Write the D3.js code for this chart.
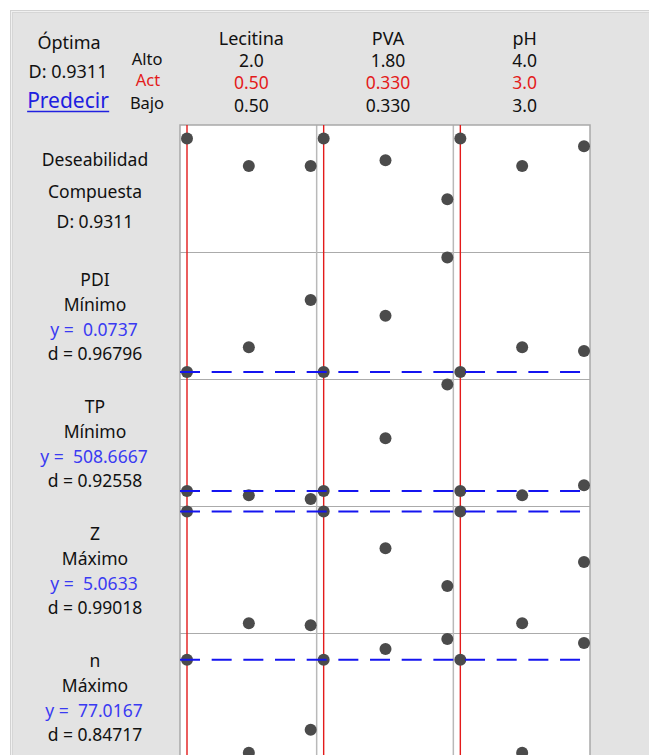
<!DOCTYPE html>
<html>
<head>
<meta charset="utf-8">
<script src="https://cdn.jsdelivr.net/npm/d3@7"></script>
<style>
  html, body { margin: 0; padding: 0; background: #ffffff; }
  svg { display: block; font-family: "Noto Sans", "Open Sans", sans-serif; }
  text { white-space: pre; }
</style>
</head>
<body>
<svg id="chart" width="649" height="755"></svg>
<script>
// Factors and their settings
const factors = ["Lecitina", "PVA", "pH"];
const factorLow = [0.50, 0.330, 3.0];
const factorHigh = [2.0, 1.80, 4.0];
const factorAct = [0.50, 0.330, 3.0];
const highLabels = ["2.0", "1.80", "4.0"];
const actLabels = ["0.50", "0.330", "3.0"];
const lowLabels = ["0.50", "0.330", "3.0"];
// Levels evaluated for each factor: low, centre, high
const factorLevels = [[0.50, 1.25, 2.0], [0.330, 1.065, 1.80], [3.0, 3.5, 4.0]];

// Responses
const responseNames = ["PDI", "TP", "Z", "n"];
const responseGoals = ["Mínimo", "Mínimo", "Máximo", "Máximo"];
const responsePredicted = ["0.0737", "508.6667", "5.0633", "77.0167"];
const responseDesirability = ["0.96796", "0.92558", "0.99018", "0.84717"];
const compositeLabel = "0.9311";

// Predicted value at each level of each factor (other factors at current setting)
const compositeValues = [[0.9311, 0.69, 0.69], [0.9311, 0.74, 0.40], [0.9311, 0.69, 0.862]];
const pdiValues = [[0.0737, 0.1107, 0.1814], [0.0737, 0.1580, 0.2450], [0.0737, 0.1107, 0.1050]];
const tpValues = [[508.6667, 503.9, 500.0], [508.6667, 565.2, 623.0], [508.6667, 503.9, 514.8]];
const zValues = [[5.0633, 4.1845, 4.1688], [5.0633, 4.774, 4.4774], [5.0633, 4.1845, 4.6664]];
const nValues = [[77.0167, 72.716, 73.779], [77.0167, 77.51, 77.977], [77.0167, 72.716, 77.79]];

// Current predicted value of each row (composite first)
const currentValues = [0.9311, 0.0737, 508.6667, 5.0633, 77.0167];
// Vertical extent of each row's scale
const yDomains = [[0, 1], [0.0737, 0.2450], [500.0, 623.0], [4.1633, 5.0633], [72.7, 78.0]];

const rowValues = [compositeValues, pdiValues, tpValues, zValues, nValues];

const svg = d3.select("#chart");
const W = 649, H = 755;

const RED = "#e31b1b";
const BLUE = "#1414f0";
const TEXT_BLUE = "#3a3af2";
const DOT = "#4b4b4b";

// Panel background with a double light frame
svg.append("rect").attr("x", 0).attr("y", 0).attr("width", W).attr("height", H).attr("fill", "#ffffff");
svg.append("rect").attr("x", 10.5).attr("y", 10.5).attr("width", W).attr("height", H)
  .attr("fill", "#f0f0f0").attr("stroke", "#d2d2d2").attr("stroke-width", 1);
svg.append("rect").attr("x", 12.5).attr("y", 12.5).attr("width", W).attr("height", H)
  .attr("fill", "#e3e3e3").attr("stroke", "#d6d6d6").attr("stroke-width", 1);

// Plot grid geometry
const plotLeft = 180, plotRight = 590, plotTop = 125, rowH = 127;
const colScale = d3.scaleBand().domain(d3.range(factors.length)).range([plotLeft, plotRight]).padding(0);
const rowScale = d3.scaleBand().domain(d3.range(rowValues.length))
  .range([plotTop, plotTop + rowH * rowValues.length]).padding(0);

const xScales = factors.map((f, i) => d3.scaleLinear()
  .domain([factorLow[i], factorHigh[i]])
  .range([colScale(i) + 7, colScale(i) + colScale.bandwidth() - 6]));

const yScales = rowValues.map((v, r) => d3.scaleLinear()
  .domain(yDomains[r])
  .range([rowScale(r) + 120, rowScale(r) + 5.5]));

const plotBottom = rowScale.range()[1];

// White plotting area
svg.append("rect").attr("x", plotLeft).attr("y", plotTop)
  .attr("width", plotRight - plotLeft).attr("height", plotBottom - plotTop)
  .attr("fill", "#ffffff");

// Row separators
svg.append("g").selectAll("line").data(d3.range(1, rowValues.length)).join("line")
  .attr("x1", plotLeft).attr("x2", plotRight)
  .attr("y1", r => rowScale(r) + 0.5).attr("y2", r => rowScale(r) + 0.5)
  .attr("stroke", "#ababab").attr("stroke-width", 1);

// Column separators
svg.append("g").selectAll("line").data(d3.range(1, factors.length)).join("line")
  .attr("x1", i => colScale(i)).attr("x2", i => colScale(i))
  .attr("y1", plotTop).attr("y2", plotBottom)
  .attr("stroke", "#b9b9b9").attr("stroke-width", 1.5);

// Plot border
svg.append("rect").attr("x", plotLeft).attr("y", plotTop)
  .attr("width", plotRight - plotLeft).attr("height", plotBottom - plotTop)
  .attr("fill", "none").attr("stroke", "#a9a9a9").attr("stroke-width", 1.5);

// Current factor settings (red verticals)
svg.append("g").selectAll("line").data(factors).join("line")
  .attr("x1", (d, i) => xScales[i](factorAct[i])).attr("x2", (d, i) => xScales[i](factorAct[i]))
  .attr("y1", plotTop).attr("y2", plotBottom)
  .attr("stroke", RED).attr("stroke-width", 1.4);

// Predicted points
rowValues.forEach((rows, r) => {
  const pts = [];
  rows.forEach((vals, i) => vals.forEach((v, k) => pts.push({ i, x: factorLevels[i][k], y: v })));
  svg.append("g").selectAll("circle").data(pts).join("circle")
    .attr("cx", d => xScales[d.i](d.x))
    .attr("cy", d => yScales[r](d.y))
    .attr("r", 6)
    .attr("fill", DOT);
});

// Current response values (blue dashed)
currentValues.forEach((v, r) => {
  if (r === 0) return;
  const y = yScales[r](v);
  svg.append("line")
    .attr("x1", plotLeft).attr("x2", xScales[2](factorHigh[2]))
    .attr("y1", y).attr("y2", y)
    .attr("stroke", BLUE).attr("stroke-width", 2)
    .attr("stroke-dasharray", "20,11.67");
});

// Header: optimum summary
const header = svg.append("g").attr("font-size", 18).attr("fill", "#111");
header.append("text").attr("x", 69).attr("y", 49).attr("text-anchor", "middle").text("Óptima");
header.append("text").attr("x", 68).attr("y", 78).attr("text-anchor", "middle").text("D: " + compositeLabel);
const pred = header.append("text").attr("x", 68).attr("y", 108).attr("text-anchor", "middle")
  .attr("font-size", 21).attr("fill", "#2020e0").text("Predecir");
const pb = pred.node().getBBox();
header.append("line").attr("x1", pb.x).attr("x2", pb.x + pb.width)
  .attr("y1", 111.5).attr("y2", 111.5).attr("stroke", "#2020e0").attr("stroke-width", 1.3);

// Setting row labels
const rowLab = svg.append("g").attr("font-size", 16.5).attr("fill", "#111").attr("text-anchor", "middle");
rowLab.append("text").attr("x", 147).attr("y", 65).text("Alto");
rowLab.append("text").attr("x", 148).attr("y", 86).attr("fill", RED).text("Act");
rowLab.append("text").attr("x", 147).attr("y", 109).text("Bajo");

const colHead = svg.append("g").attr("font-size", 17.5).attr("fill", "#111").attr("text-anchor", "middle");
factors.forEach((f, i) => {
  const cx = colScale(i) + colScale.bandwidth() / 2 + 3;
  colHead.append("text").attr("x", cx).attr("y", 45).attr("font-size", 18).text(f);
  colHead.append("text").attr("x", cx).attr("y", 67).text(highLabels[i]);
  colHead.append("text").attr("x", cx).attr("y", 89).attr("fill", RED).text(actLabels[i]);
  colHead.append("text").attr("x", cx).attr("y", 112).text(lowLabels[i]);
});

// Row labels
const labels = svg.append("g").attr("font-size", 17.5).attr("fill", "#111").attr("text-anchor", "middle");
const lx = 95;
labels.append("text").attr("x", lx).attr("y", rowScale(0) + 41).text("Deseabilidad");
labels.append("text").attr("x", lx).attr("y", rowScale(0) + 73).text("Compuesta");
labels.append("text").attr("x", lx).attr("y", rowScale(0) + 103).text("D: " + compositeLabel);

responseNames.forEach((name, k) => {
  const top = rowScale(k + 1);
  labels.append("text").attr("x", lx).attr("y", top + 34).text(name);
  labels.append("text").attr("x", lx).attr("y", top + 59).text(responseGoals[k]);
  labels.append("text").attr("x", lx - 1).attr("y", top + 84).attr("fill", TEXT_BLUE)
    .text("y =  " + responsePredicted[k]);
  labels.append("text").attr("x", lx).attr("y", top + 108).text("d = " + responseDesirability[k]);
});
</script>
</body>
</html>
